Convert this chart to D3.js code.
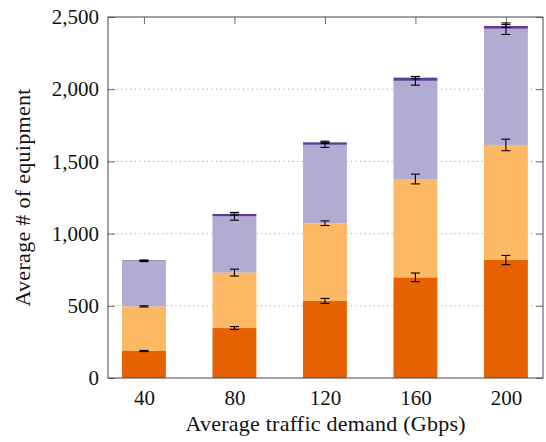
<!DOCTYPE html>
<html>
<head>
<meta charset="utf-8">
<script src="https://cdn.jsdelivr.net/npm/d3@7"></script>
<style>
  html, body { margin: 0; padding: 0; background: #fff; }
  svg { display: block; }
  text { font-family: "Liberation Serif", "DejaVu Serif", serif; fill: #111; }
</style>
</head>
<body>
<svg id="chart" width="546" height="442"></svg>
<script>
// Traffic demand levels (Gbps)
const categories = [40, 80, 120, 160, 200];

// Stacked segment values, bottom to top
const seriesA = [187, 346, 534, 697, 817];   // dark orange
const seriesB = [309, 384, 538, 681, 797];   // light orange
const seriesC = [314, 390, 543, 680, 805];   // light purple
const seriesD = [4, 16, 17, 22, 19];         // dark purple

// Error half-widths, drawn at the top of each stacked segment
const errA = [4, 10, 17, 30, 32];
const errB = [4, 24, 16, 34, 40];
const errC = [4, 27, 18, 30, 40];
const errD = [3, 8, 8, 8, 10];

const yTicks = [0, 500, 1000, 1500, 2000, 2500];
const colors = ["#e66101", "#fdb863", "#b2abd2", "#5e3c99"];

const margin = { left: 108, top: 17, right: 3, bottom: 64 };
const W = 546, H = 442;
const iw = W - margin.left - margin.right;
const ih = H - margin.top - margin.bottom;
const fontSize = 21;
const titleSize = 22;

const svg = d3.select("#chart");
const g = svg.append("g").attr("transform", `translate(${margin.left},${margin.top})`);

const x = d3.scaleLinear().domain([24.1, 216.4]).range([0, iw]);
const y = d3.scaleLinear().domain([0, 2500]).range([ih, 0]);
const barW = x(19.4) - x(0);

// Dotted horizontal grid
g.append("g").selectAll("line")
  .data(yTicks.filter(t => t > 0 && t < 2500))
  .join("line")
  .attr("x1", 0).attr("x2", iw)
  .attr("y1", d => y(d)).attr("y2", d => y(d))
  .attr("stroke", "#777").attr("stroke-width", 0.8)
  .attr("stroke-dasharray", "1,3.5");

// Axes with inward ticks on all four sides (drawn under the bars)
const axisColor = "#444";
const tick = 7;
const yAxisL = g.append("g").call(d3.axisLeft(y).tickValues(yTicks).tickFormat(d3.format(",")).tickSizeInner(-tick).tickSizeOuter(0).tickPadding(9));
const yAxisR = g.append("g").attr("transform", `translate(${iw},0)`)
  .call(d3.axisRight(y).tickValues(yTicks).tickFormat("").tickSizeInner(-tick).tickSizeOuter(0));
const xAxisB = g.append("g").attr("transform", `translate(0,${ih})`)
  .call(d3.axisBottom(x).tickValues(categories).tickSizeInner(-tick).tickSizeOuter(0).tickPadding(12));
const xAxisT = g.append("g")
  .call(d3.axisTop(x).tickValues(categories).tickFormat("").tickSizeInner(-tick).tickSizeOuter(0));

[yAxisL, yAxisR, xAxisB, xAxisT].forEach(a => {
  a.select(".domain").remove();
  a.selectAll(".tick line").attr("stroke", axisColor).attr("stroke-width", 0.8);
  a.selectAll("text").attr("font-family", "Liberation Serif").attr("font-size", fontSize).attr("fill", "#111");
});

// Stack the segments
const rows = categories.map((c, i) => ({
  cat: c,
  a: seriesA[i], b: seriesB[i], c: seriesC[i], d: seriesD[i],
  ea: errA[i], eb: errB[i], ec: errC[i], ed: errD[i]
}));
const keys = ["a", "b", "c", "d"];
const errKeys = ["ea", "eb", "ec", "ed"];
const stacked = d3.stack().keys(keys)(rows);

stacked.forEach((layer, li) => {
  g.append("g").selectAll("rect")
    .data(layer)
    .join("rect")
    .attr("x", d => x(d.data.cat) - barW / 2)
    .attr("width", barW)
    .attr("y", d => y(d[1]))
    .attr("height", d => y(d[0]) - y(d[1]))
    .attr("fill", colors[li]);
});

// Error bars
const capW = 9;
stacked.forEach((layer, li) => {
  const eg = g.append("g").attr("stroke", "#000").attr("stroke-width", 1.1);
  layer.forEach(d => {
    const cx = x(d.data.cat);
    const top = d[1];
    const e = d.data[errKeys[li]];
    const y1 = y(top + e), y2 = y(top - e);
    eg.append("line").attr("x1", cx).attr("x2", cx).attr("y1", y1).attr("y2", y2);
    eg.append("line").attr("x1", cx - capW / 2).attr("x2", cx + capW / 2).attr("y1", y1).attr("y2", y1);
    eg.append("line").attr("x1", cx - capW / 2).attr("x2", cx + capW / 2).attr("y1", y2).attr("y2", y2);
  });
});

// Frame
g.append("rect").attr("x", 0).attr("y", 0).attr("width", iw).attr("height", ih)
  .attr("fill", "none").attr("stroke", axisColor).attr("stroke-width", 1);

// Axis titles
svg.append("text")
  .attr("x", margin.left + iw / 2).attr("y", 431)
  .attr("text-anchor", "middle").attr("font-size", titleSize)
  .attr("textLength", 280).attr("lengthAdjust", "spacing")
  .text("Average traffic demand (Gbps)");

svg.append("text")
  .attr("transform", `translate(30,${margin.top + ih / 2}) rotate(-90)`)
  .attr("text-anchor", "middle").attr("font-size", titleSize)
  .attr("textLength", 218).attr("lengthAdjust", "spacing")
  .text("Average # of equipment");
</script>
</body>
</html>
